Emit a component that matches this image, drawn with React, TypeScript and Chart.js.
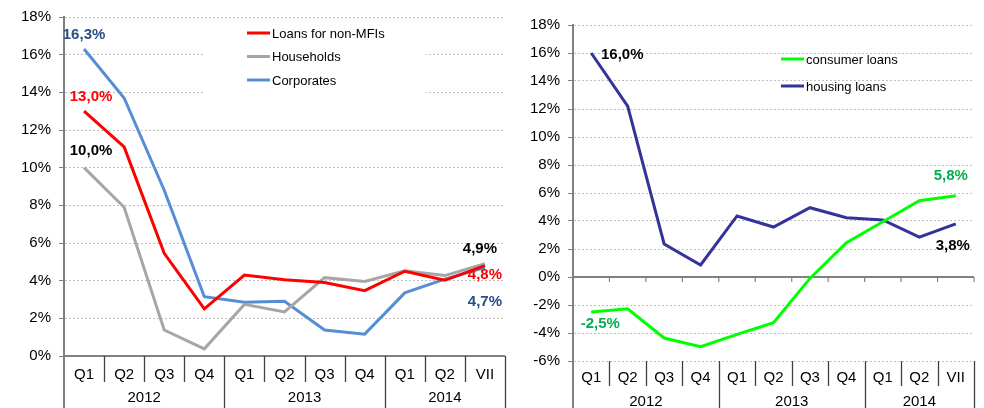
import React, { useEffect, useRef } from "react";
import { Chart, registerables } from "chart.js";

Chart.register(...registerables);

// ---------- data ----------
const quarters = ["Q1", "Q2", "Q3", "Q4", "Q1", "Q2", "Q3", "Q4", "Q1", "Q2", "VII"];
const years = ["2012", "2013", "2014"];
const yearSpans = [4, 4, 3];

const loansNonMFI = [13.0, 11.1, 5.45, 2.5, 4.3, 4.05, 3.9, 3.47, 4.5, 4.02, 4.8];
const households = [10.0, 7.9, 1.38, 0.38, 2.74, 2.34, 4.16, 3.96, 4.52, 4.27, 4.9];
const corporates = [16.3, 13.7, 8.8, 3.15, 2.86, 2.91, 1.38, 1.16, 3.35, 4.08, 4.7];

const consumerLoans = [-2.5, -2.27, -4.36, -4.98, -4.1, -3.26, -0.1, 2.45, 3.95, 5.45, 5.8];
const housingLoans = [16.0, 12.2, 2.36, 0.86, 4.36, 3.57, 4.95, 4.24, 4.08, 2.85, 3.8];

const leftTicks = { min: 0, max: 18, step: 2 };
const rightTicks = { min: -6, max: 18, step: 2 };

const FONT = '"Liberation Sans", Arial, Helvetica, sans-serif';

const fmt = (v: number) => v.toFixed(1).replace(".", ",") + "%";

type LabelSpec = { series: number; index: number; color: string; dx: number; dy: number };
type DecorOpts = {
  labels: LabelSpec[];
  legend: { x: number; y: number; gap: number; box?: { x: number; y: number; w: number; h: number } };
  axisAtZero: boolean;
  qOffset: number;
  yearOffset: number;
  sepLen: number;
  zeroTicks: boolean;
};

function boundaryX(chart: any, b: number, n: number) {
  const xs = chart.scales.x;
  const ca = chart.chartArea;
  if (b <= 0) return ca.left;
  if (b >= n) return ca.right;
  return (xs.getPixelForValue(b - 1) + xs.getPixelForValue(b)) / 2;
}

function makeDecor(o: DecorOpts) {
  return {
    id: "decor",
    beforeDatasetsDraw(chart: any) {
      const ctx = chart.ctx as CanvasRenderingContext2D;
      const ca = chart.chartArea;
      const ys = chart.scales.y;
      const xs = chart.scales.x;
      const n = quarters.length;
      const H = chart.height;
      ctx.save();
      // legend white box
      if (o.legend.box) {
        const b = o.legend.box;
        ctx.fillStyle = "#ffffff";
        ctx.fillRect(b.x, b.y, b.w, b.h);
      }
      // y axis extension to bottom
      ctx.strokeStyle = "#808080";
      ctx.lineWidth = 2;
      ctx.beginPath();
      ctx.moveTo(ca.left, ca.bottom);
      ctx.lineTo(ca.left, H);
      ctx.stroke();

      const zeroY = ys.getPixelForValue(0);
      // zero axis line
      ctx.strokeStyle = "#808080";
      ctx.lineWidth = 2;
      ctx.beginPath();
      ctx.moveTo(ca.left, zeroY);
      ctx.lineTo(ca.right, zeroY);
      ctx.stroke();

      if (o.zeroTicks) {
        ctx.lineWidth = 1.2;
        for (let b = 1; b <= n; b++) {
          const x = boundaryX(chart, b, n);
          ctx.beginPath();
          ctx.moveTo(x, zeroY);
          ctx.lineTo(x, zeroY + 5);
          ctx.stroke();
        }
      }

      const baseY = o.axisAtZero ? zeroY : ca.bottom;
      // separators
      const yearBounds = new Set<number>();
      let acc = 0;
      yearBounds.add(0);
      yearSpans.forEach((s) => {
        acc += s;
        yearBounds.add(acc);
      });
      ctx.strokeStyle = "#404040";
      ctx.lineWidth = 1.3;
      for (let b = 1; b <= n; b++) {
        const x = Math.round(boundaryX(chart, b, n)) + 0.5;
        ctx.beginPath();
        ctx.moveTo(x, baseY);
        ctx.lineTo(x, yearBounds.has(b) ? H : baseY + o.sepLen);
        ctx.stroke();
      }
      // quarter labels
      ctx.fillStyle = "#000000";
      ctx.font = `15px ${FONT}`;
      ctx.textAlign = "center";
      ctx.textBaseline = "middle";
      quarters.forEach((q, i) => {
        ctx.fillText(q, xs.getPixelForValue(i), baseY + o.qOffset);
      });
      // year labels
      acc = 0;
      years.forEach((y, k) => {
        const x0 = boundaryX(chart, acc, n);
        acc += yearSpans[k];
        const x1 = boundaryX(chart, acc, n);
        ctx.fillText(y, (x0 + x1) / 2, baseY + o.yearOffset);
      });
      ctx.restore();
    },
    afterDatasetsDraw(chart: any) {
      const ctx = chart.ctx as CanvasRenderingContext2D;
      ctx.save();
      // data labels
      ctx.font = `bold 15px ${FONT}`;
      ctx.textAlign = "center";
      ctx.textBaseline = "middle";
      o.labels.forEach((l) => {
        const meta = chart.getDatasetMeta(l.series);
        const pt = meta.data[l.index];
        const v = chart.data.datasets[l.series].data[l.index] as number;
        ctx.fillStyle = l.color;
        ctx.fillText(fmt(v), pt.x + l.dx, pt.y + l.dy);
      });
      // legend
      ctx.font = `13px ${FONT}`;
      ctx.textAlign = "left";
      chart.data.datasets.forEach((ds: any, i: number) => {
        const y = o.legend.y + i * o.legend.gap;
        ctx.strokeStyle = ds.borderColor;
        ctx.lineWidth = 3;
        ctx.beginPath();
        ctx.moveTo(o.legend.x, y);
        ctx.lineTo(o.legend.x + 23, y);
        ctx.stroke();
        ctx.fillStyle = "#000000";
        ctx.fillText(ds.label, o.legend.x + 25, y + 1);
      });
      ctx.restore();
    },
  };
}

function buildConfig(
  datasets: { label: string; data: number[]; color: string }[],
  ticks: { min: number; max: number; step: number },
  yWidth: number,
  padding: { top: number; right: number; bottom: number },
  decor: DecorOpts
): any {
  return {
    type: "line",
    data: {
      labels: quarters,
      datasets: datasets.map((d) => ({
        label: d.label,
        data: d.data,
        borderColor: d.color,
        backgroundColor: d.color,
        borderWidth: 3,
        pointRadius: 0,
        tension: 0,
        fill: false,
      })),
    },
    options: {
      animation: false,
      responsive: false,
      devicePixelRatio: 1,
      layout: { padding: { left: 0, top: padding.top, right: padding.right, bottom: padding.bottom } },
      plugins: { legend: { display: false }, tooltip: { enabled: false } },
      scales: {
        x: { display: false, offset: true },
        y: {
          min: ticks.min,
          max: ticks.max,
          afterFit: (s: any) => {
            s.width = yWidth;
          },
          ticks: {
            stepSize: ticks.step,
            color: "#000000",
            font: { family: FONT, size: 15 },
            padding: 8,
            callback: (v: any) => v + "%",
          },
          grid: {
            color: "#C0C0C0",
            lineWidth: 1,
            tickColor: "#808080",
            tickLength: 5,
          },
          border: { display: true, color: "#808080", width: 2, dash: [2, 2] },
        },
      },
    },
    plugins: [makeDecor(decor)],
  };
}

function ChartCanvas({ config, left, width }: { config: () => any; left: number; width: number }) {
  const ref = useRef<HTMLCanvasElement | null>(null);
  useEffect(() => {
    if (!ref.current) return;
    const ch = new Chart(ref.current, config());
    return () => ch.destroy();
  }, []);
  return (
    <canvas
      ref={ref}
      width={width}
      height={408}
      style={{ position: "absolute", left, top: 0, width, height: 408 }}
    />
  );
}

export default function App() {
  const leftConfig = () =>
    buildConfig(
      [
        { label: "Loans for non-MFIs", data: loansNonMFI, color: "#FF0000" },
        { label: "Households", data: households, color: "#A6A6A6" },
        { label: "Corporates", data: corporates, color: "#558ED5" },
      ],
      leftTicks,
      64,
      { top: 14, right: 10, bottom: 52 },
      {
        labels: [
          { series: 2, index: 0, color: "#264F87", dx: 0, dy: -14 },
          { series: 0, index: 0, color: "#FF0000", dx: 7, dy: -14 },
          { series: 1, index: 0, color: "#000000", dx: 7, dy: -17 },
          { series: 1, index: 10, color: "#000000", dx: -5, dy: -15 },
          { series: 0, index: 10, color: "#FF0000", dx: 0, dy: 9 },
          { series: 2, index: 10, color: "#264F87", dx: 0, dy: 34 },
        ],
        legend: { x: 247, y: 33, gap: 23.5, box: { x: 204, y: 20, w: 222, h: 80 } },
        axisAtZero: true,
        qOffset: 19,
        yearOffset: 42,
        sepLen: 26,
        zeroTicks: false,
      }
    );
  const rightConfig = () =>
    buildConfig(
      [
        { label: "consumer loans", data: consumerLoans, color: "#00FF00" },
        { label: "housing loans", data: housingLoans, color: "#333399" },
      ],
      rightTicks,
      58,
      { top: 25, right: 10, bottom: 47 },
      {
        labels: [
          { series: 1, index: 0, color: "#000000", dx: 31, dy: 2 },
          { series: 0, index: 10, color: "#00B050", dx: -5, dy: -20 },
          { series: 1, index: 10, color: "#000000", dx: -3, dy: 22 },
          { series: 0, index: 0, color: "#00B050", dx: 9, dy: 12 },
        ],
        legend: { x: 266, y: 59, gap: 27 },
        axisAtZero: false,
        qOffset: 17,
        yearOffset: 41,
        sepLen: 25,
        zeroTicks: true,
      }
    );
  return (
    <div style={{ position: "fixed", left: 0, top: 0, width: 984, height: 408, background: "#ffffff", overflow: "hidden" }}>
      <ChartCanvas config={leftConfig} left={0} width={515} />
      <ChartCanvas config={rightConfig} left={515} width={469} />
    </div>
  );
}
